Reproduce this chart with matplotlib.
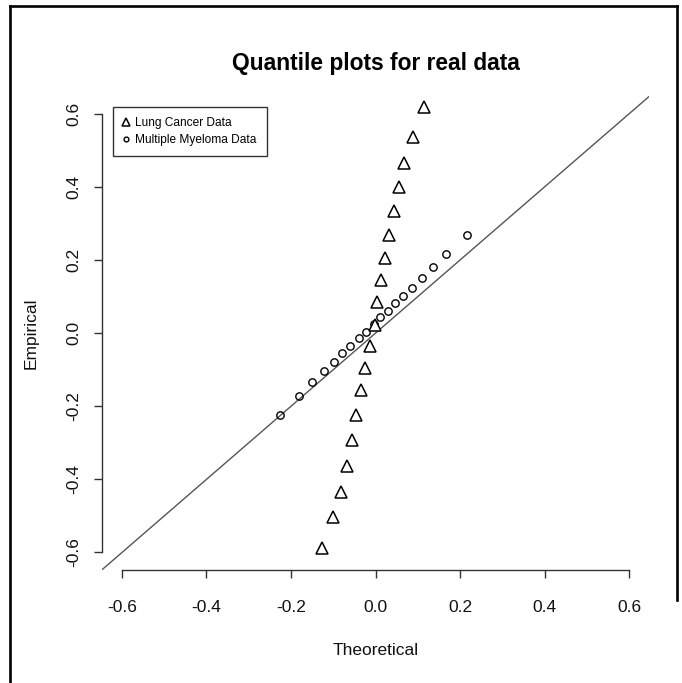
import matplotlib
matplotlib.use("Agg")
import matplotlib.pyplot as plt
from matplotlib.lines import Line2D
import numpy as np

plt.rcParams['font.family'] = ['Liberation Sans', 'DejaVu Sans']

# Data
lung_theoretical = [0.1143, 0.0883, 0.0686, 0.0568, 0.0433, 0.0315, 0.0230, 0.0125, 0.0024,
                    -0.0017, -0.0135, -0.0244, -0.0338, -0.0457, -0.0551, -0.0679, -0.0812,
                    -0.1010, -0.1271]
lung_empirical = [0.6175, 0.5355, 0.4659, 0.3986, 0.3338, 0.2681, 0.2060, 0.1450, 0.0848,
                  0.0219, -0.0356, -0.0949, -0.1560, -0.2243, -0.2927, -0.3639, -0.4342,
                  -0.5042, -0.5890]
myeloma_theoretical = [-0.2256, -0.1799, -0.1498, -0.1224, -0.0987, -0.0788, -0.0592, -0.0395,
                       -0.0220, -0.0047, 0.0118, 0.0291, 0.0466, 0.0646, 0.0859, 0.1095,
                       0.1356, 0.1673, 0.2160]
myeloma_empirical = [-0.2243, -0.1715, -0.1332, -0.1040, -0.0785, -0.0555, -0.0347, -0.0145,
                     0.0036, 0.0246, 0.0430, 0.0610, 0.0813, 0.1020, 0.1239, 0.1497,
                     0.1798, 0.2161, 0.2681]
ticks = [-0.6, -0.4, -0.2, 0.0, 0.2, 0.4, 0.6]
tick_labels = ["-0.6", "-0.4", "-0.2", "0.0", "0.2", "0.4", "0.6"]
series_labels = ["Lung Cancer Data", "Multiple Myeloma Data"]

W, H = 682, 683
fig = plt.figure(figsize=(W / 100, H / 100), dpi=100)
ax = fig.add_axes([101.7 / W, 113 / H, 547.6 / W, 473.7 / H])
ax.set_xlim(-0.648, 0.648)
ax.set_ylim(-0.648, 0.648)

ax.axline((0, 0), slope=1, color='#555555', lw=1.0, zorder=1)
ax.plot(lung_theoretical, lung_empirical, linestyle='none', marker='^', ms=9,
        mfc='white', mec='black', mew=1.1, label=series_labels[0], zorder=3)
ax.plot(myeloma_theoretical, myeloma_empirical, linestyle='none', marker='o', ms=5.3,
        mfc='none', mec='black', mew=1.0, label=series_labels[1], zorder=2)

for s in ['top', 'right']:
    ax.spines[s].set_visible(False)
ax.spines['bottom'].set_bounds(-0.6, 0.6)
ax.spines['left'].set_bounds(-0.6, 0.6)
for s in ['bottom', 'left']:
    ax.spines[s].set_color('#333333')
    ax.spines[s].set_linewidth(1.0)

ax.set_xticks(ticks)
ax.set_xticklabels(tick_labels)
ax.set_yticks(ticks)
ax.set_yticklabels(tick_labels, rotation=90, va='center')
ax.tick_params(axis='both', length=5.5, width=1.0, color='#333333', labelsize=12.5,
               labelcolor='#111111')
ax.tick_params(axis='x', pad=16)
ax.tick_params(axis='y', pad=9)

ax.set_xlabel("Theoretical", fontsize=12.5, labelpad=20, color='#111111')
ax.set_ylabel("Empirical", fontsize=12.5, labelpad=20, color='#111111')
ax.set_title("Quantile plots for real data", fontsize=16.4, fontweight='bold', pad=19)

leg = ax.legend(loc='upper left', bbox_to_anchor=(113.3 / W, 1 - 106.7 / H),
                bbox_transform=fig.transFigure, fontsize=8.6, frameon=True,
                fancybox=False, edgecolor='black', borderpad=0.85, handlelength=0.5,
                handletextpad=0.5, labelspacing=0.42, markerscale=0.65, borderaxespad=0)
leg.get_frame().set_linewidth(1.0)

# Outer frame
fig.add_artist(Line2D([10 / W, 10 / W], [0, 1 - 6 / H], transform=fig.transFigure,
                      color='black', lw=1.9))
fig.add_artist(Line2D([10 / W, 677 / W], [1 - 6 / H, 1 - 6 / H], transform=fig.transFigure,
                      color='black', lw=1.9))
fig.add_artist(Line2D([677 / W, 677 / W], [1 - 6 / H, 1 - 600 / H], transform=fig.transFigure,
                      color='black', lw=1.9))

fig.savefig("out.png", dpi=100)
